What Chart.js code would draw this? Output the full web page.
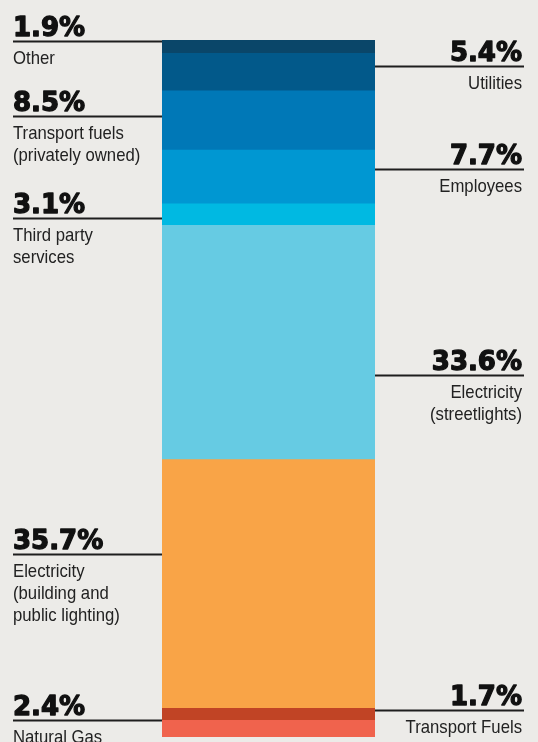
<!DOCTYPE html>
<html>
<head>
<meta charset="utf-8">
<script src="https://cdn.jsdelivr.net/npm/chart.js@4/dist/chart.umd.min.js"></script>
<style>
  html, body { margin: 0; padding: 0; background: #ecebe8; }
  #wrap { width: 538px; height: 742px; position: relative; }
</style>
</head>
<body>
<div id="wrap"><canvas id="c" width="538" height="742"></canvas></div>
<script>
// Data, stacked from the bottom of the bar to the top
const categories = [
  'Natural Gas',
  'Transport Fuels',
  'Electricity (building and public lighting)',
  'Electricity (streetlights)',
  'Third party services',
  'Employees',
  'Transport fuels (privately owned)',
  'Utilities',
  'Other'
];
const shares = [2.4, 1.7, 35.7, 33.6, 3.1, 7.7, 8.5, 5.4, 1.9];
const labelLines = [
  ['Natural Gas'],
  ['Transport Fuels'],
  ['Electricity', '(building and', 'public lighting)'],
  ['Electricity', '(streetlights)'],
  ['Third party', 'services'],
  ['Employees'],
  ['Transport fuels', '(privately owned)'],
  ['Utilities'],
  ['Other']
];
const labelSide = ['left', 'right', 'left', 'right', 'left', 'right', 'left', 'right', 'left'];

// Styling
const colors = ['#f0634d', '#c14425', '#f9a447', '#66cbe3', '#00b9e2', '#0097d2', '#0078b7', '#02598a', '#0a4669'];
const leaderFrac = [1.0, 0.88, 0.62, 0.36, 0.35, 0.65, 0.58, 0.67, 0.93];

const leaderPlugin = {
  id: 'leaders',
  afterDatasetsDraw(chart) {
    const ctx = chart.ctx;
    const y = chart.scales.y;
    let cum = 0;
    chart.data.datasets.forEach((ds, i) => {
      const v = ds.data[0];
      const el = chart.getDatasetMeta(i).data[0];
      const left = el.x - el.width / 2, right = el.x + el.width / 2;
      const ly = Math.round(y.getPixelForValue(cum + leaderFrac[i] * v)) + 0.5;
      cum += v;
      const side = labelSide[i];
      const x0 = side === 'left' ? 13 : right;
      const x1 = side === 'left' ? left : 524;
      ctx.save();
      ctx.strokeStyle = '#1e1e1e';
      ctx.lineWidth = 2;
      ctx.beginPath();
      ctx.moveTo(x0, ly);
      ctx.lineTo(x1, ly);
      ctx.stroke();
      // percentage (heavy)
      ctx.fillStyle = '#111';
      ctx.strokeStyle = '#111';
      ctx.lineWidth = 1.3;
      ctx.lineJoin = 'round';
      ctx.font = 'bold 26px "DejaVu Sans"';
      ctx.textBaseline = 'alphabetic';
      ctx.textAlign = side === 'left' ? 'left' : 'right';
      const tx = side === 'left' ? 13 : 522;
      const pct = v.toFixed(1) + '%';
      ctx.fillText(pct, tx, ly - 6);
      ctx.strokeText(pct, tx, ly - 6);
      // description, condensed
      ctx.fillStyle = '#222';
      ctx.font = '19px "Liberation Sans"';
      labelLines[i].forEach((t, k) => {
        ctx.save();
        ctx.translate(tx, ly + 22 + k * 22);
        ctx.scale(0.88, 1);
        ctx.fillText(t, 0, 0);
        ctx.restore();
      });
      ctx.restore();
    });
  }
};

new Chart(document.getElementById('c'), {
  type: 'bar',
  data: {
    labels: ['Emissions'],
    datasets: categories.map((c, i) => ({
      label: c,
      data: [shares[i]],
      backgroundColor: colors[i],
      borderWidth: 0,
      barPercentage: 1,
      categoryPercentage: 1
    }))
  },
  options: {
    responsive: false,
    animation: false,
    layout: { padding: { left: 162, right: 163, top: 40, bottom: 5 } },
    scales: {
      x: { stacked: true, display: false },
      y: { stacked: true, display: false, min: 0, max: 100 }
    },
    plugins: { legend: { display: false }, tooltip: { enabled: false } }
  },
  plugins: [leaderPlugin]
});
</script>
</body>
</html>
